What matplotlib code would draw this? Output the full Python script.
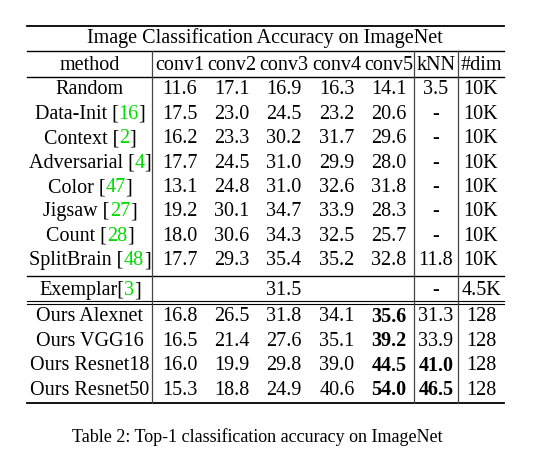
import matplotlib.pyplot as plt

plt.rcParams['font.family'] = ['Liberation Serif', 'DejaVu Serif']

title = "Image Classification Accuracy on ImageNet"
header = ["method", "conv1", "conv2", "conv3", "conv4", "conv5", "kNN", "#dim"]
methods = [("Random", None), ("Data-Init", "16"), ("Context", "2"), ("Adversarial", "4"),
           ("Color", "47"), ("Jigsaw", "27"), ("Count", "28"), ("SplitBrain", "48")]
values = [["11.6", "17.1", "16.9", "16.3", "14.1", "3.5", "10K"],
          ["17.5", "23.0", "24.5", "23.2", "20.6", "-", "10K"],
          ["16.2", "23.3", "30.2", "31.7", "29.6", "-", "10K"],
          ["17.7", "24.5", "31.0", "29.9", "28.0", "-", "10K"],
          ["13.1", "24.8", "31.0", "32.6", "31.8", "-", "10K"],
          ["19.2", "30.1", "34.7", "33.9", "28.3", "-", "10K"],
          ["18.0", "30.6", "34.3", "32.5", "25.7", "-", "10K"],
          ["17.7", "29.3", "35.4", "35.2", "32.8", "11.8", "10K"]]
exemplar = ("Exemplar", "3", "31.5", "-", "4.5K")
ours = ["Ours Alexnet", "Ours VGG16", "Ours Resnet18", "Ours Resnet50"]
ours_vals = [["16.8", "26.5", "31.8", "34.1", "35.6", "31.3", "128"],
             ["16.5", "21.4", "27.6", "35.1", "39.2", "33.9", "128"],
             ["16.0", "19.9", "29.8", "39.0", "44.5", "41.0", "128"],
             ["15.3", "18.8", "24.9", "40.6", "54.0", "46.5", "128"]]
ours_bold = [[4], [4], [4, 5], [4, 5]]
caption = "Table 2: Top-1 classification accuracy on ImageNet"

fig = plt.figure(figsize=(5.41, 4.56), dpi=100)
ax = fig.add_axes([0, 0, 1, 1])
ax.set_xlim(0, 541)
ax.set_ylim(456, 0)
ax.axis('off')
fs = 14.5
colx = [90, 180, 232, 284, 337, 389, 436, 481]
renderer = fig.canvas.get_renderer()

def cite(name, ref, x, y):
    parts = [(name + (" [" if ref and name != "Exemplar" else "[" if ref else ""), 'black')]
    if ref:
        parts += [(ref, '#00dd00'), ("]", 'black')]
    arts = [ax.text(0, y, t, color=c, fontsize=fs, va='center', ha='left') for t, c in parts]
    widths = [a.get_window_extent(renderer).width for a in arts]
    cur = x - sum(widths) / 2
    for a, w in zip(arts, widths):
        a.set_x(cur)
        cur += w

ax.text(265, 38, title, fontsize=fs, ha='center', va='center')
for x, h in zip(colx, header):
    ax.text(x, 65, h, fontsize=fs, ha='center', va='center')

ys = [90 + i * 24.4 for i in range(len(methods))]
for y, (m, r), row in zip(ys, methods, values):
    cite(m, r, colx[0], y)
    for x, v in zip(colx[1:], row):
        ax.text(x, y, v, fontsize=fs, ha='center', va='center')

cite(exemplar[0], exemplar[1], colx[0], 291)
ax.text(colx[3], 291, exemplar[2], fontsize=fs, ha='center', va='center')
ax.text(colx[6], 291, exemplar[3], fontsize=fs, ha='center', va='center')
ax.text(colx[7], 291, exemplar[4], fontsize=fs, ha='center', va='center')

ys2 = [317 + i * 24.4 for i in range(len(ours))]
for y, m, row, b in zip(ys2, ours, ours_vals, ours_bold):
    ax.text(colx[0], y, m, fontsize=fs, ha='center', va='center')
    for j, (x, v) in enumerate(zip(colx[1:], row)):
        ax.text(x, y, v, fontsize=fs, ha='center', va='center',
                fontweight='bold' if j in b else 'normal')

L, R = 27, 504
for y, lw in [(27, 1.3), (52, 1.0), (78, 1.0), (277, 1.0), (302, 0.8), (305, 0.8), (404, 1.3)]:
    ax.plot([L, R], [y, y], color='black', lw=lw)
for x in [152, 414, 458]:
    ax.plot([x, x], [52, 404], color='#444444', lw=0.9)

ax.text(72, 437, caption, fontsize=13, ha='left', va='center')
fig.savefig("out.png", dpi=100)
